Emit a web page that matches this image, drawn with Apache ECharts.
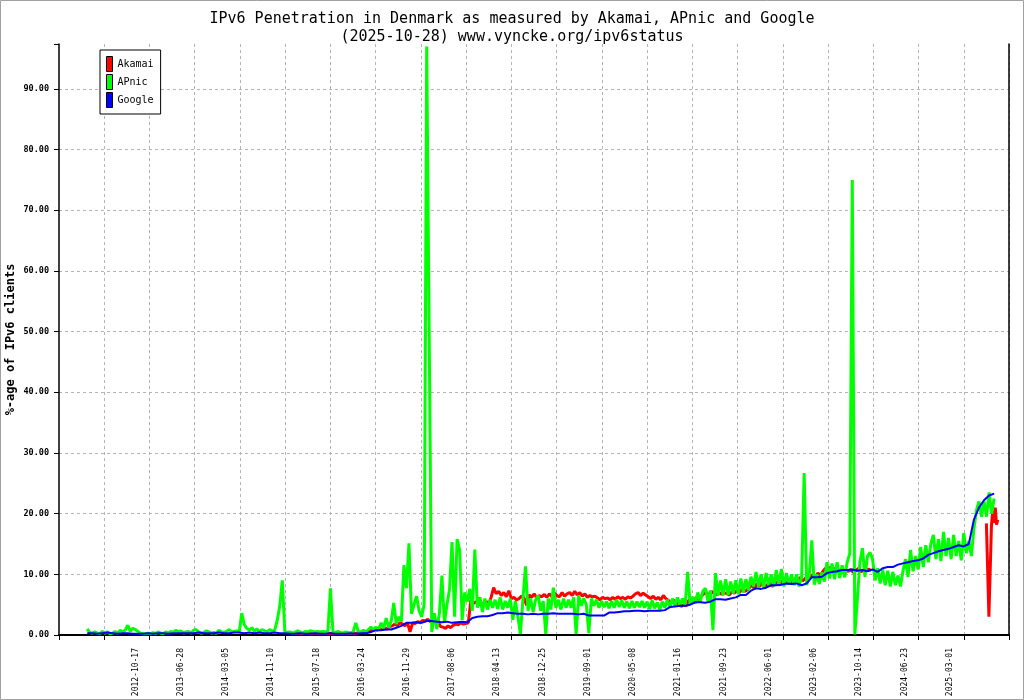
<!DOCTYPE html>
<html>
<head>
<meta charset="utf-8">
<title>IPv6 Denmark</title>
<script src="https://cdn.jsdelivr.net/npm/echarts@6.0.0/dist/echarts.min.js"></script>
<style>
  html, body { margin: 0; padding: 0; background: #fff; }
  #chart { width: 1024px; height: 700px; }
</style>
</head>
<body>
<div id="chart"></div>
<script>
// x ticks every 250 days, day 0 = 2012-02-10
var xTickLabels = ["2012-10-17", "2013-06-28", "2014-03-05", "2014-11-10", "2015-07-18",
  "2016-03-24", "2016-11-29", "2017-08-06", "2018-04-13", "2018-12-25", "2019-09-01",
  "2020-05-08", "2021-01-16", "2021-09-23", "2022-06-01", "2023-02-06", "2023-10-14",
  "2024-06-23", "2025-03-01"];

// APNIC, one value every 14 days
var apnicStart = "2011-11-08";
var apnicStep = 14;
var apnicValues = [
  1.0, 0.4, 0.3, 0.5, 0.3, 0.2, 0.6, 0.3, 0.5, 0.2,
  0.3, 0.6, 0.3, 0.8, 0.5, 0.8, 1.6, 0.6, 1.1, 0.9,
  0.6, 0.3, 0.2, 0.2, 0.3, 0.2, 0.4, 0.2, 0.5, 0.3,
  0.2, 0.5, 0.3, 0.6, 0.4, 0.8, 0.5, 0.7, 0.3, 0.5,
  0.6, 0.3, 0.8, 0.9, 0.5, 0.3, 0.4, 0.7, 0.5, 0.3,
  0.4, 0.3, 0.8, 0.5, 0.4, 0.6, 0.9, 0.5, 0.6, 0.7,
  0.5, 3.6, 1.7, 1.1, 0.8, 1.2, 0.6, 1.0, 0.5, 0.9,
  0.7, 0.5, 0.9, 0.6, 0.8, 2.4, 4.8, 9.0, 0.6, 0.4,
  0.5, 0.3, 0.4, 0.7, 0.5, 0.3, 0.6, 0.5, 0.7, 0.6,
  0.5, 0.6, 0.5, 0.6, 0.5, 0.6, 7.7, 0.5, 0.4, 0.6,
  0.4, 0.3, 0.5, 0.4, 0.3, 0.5, 2.0, 0.6, 0.4, 0.8,
  0.5, 0.9, 1.3, 0.9, 1.3, 0.8, 2.0, 1.1, 2.8, 1.2,
  2.3, 5.3, 1.8, 3.0, 2.2, 11.5, 7.7, 15.1, 3.5, 5.0,
  6.4, 4.0, 3.0, 5.0, 97.0, 49.0, 0.5, 3.6, 1.0, 3.5,
  9.8, 2.0, 5.0, 7.5, 15.3, 3.0, 15.8, 14.0, 2.5, 7.0,
  5.5, 7.6, 4.0, 14.1, 4.5, 6.2, 3.8, 6.0, 4.2, 5.8,
  4.5, 5.8, 4.3, 6.2, 4.2, 5.6, 4.5, 6.0, 2.5, 5.6,
  3.0, 0.2, 6.0, 11.3, 4.0, 6.0, 3.8, 5.8, 6.5, 4.0,
  5.6, 0.2, 6.0, 4.2, 7.8, 4.5, 5.8, 4.2, 6.0, 4.5,
  5.8, 4.5, 6.2, 0.2, 6.5, 4.8, 6.0, 5.0, 0.3, 6.0,
  4.8, 5.8, 4.5, 5.6, 4.6, 5.5, 4.4, 5.6, 4.5, 5.8,
  4.6, 5.7, 4.5, 5.5, 4.4, 5.6, 4.5, 5.5, 4.6, 5.6,
  4.5, 5.5, 4.3, 5.7, 4.4, 5.4, 4.2, 5.5, 4.5, 5.8,
  4.6, 6.0, 4.8, 6.2, 5.0, 6.0, 4.8, 10.4, 5.0, 6.3,
  5.2, 7.0, 5.5, 7.2, 7.7, 5.6, 7.3, 0.8, 10.2, 6.5,
  9.0, 6.5, 9.2, 6.6, 8.8, 6.8, 9.0, 6.7, 9.3, 7.0,
  9.2, 7.4, 9.6, 8.0, 10.4, 8.0, 10.0, 7.8, 10.2, 8.2,
  10.0, 8.0, 10.7, 8.2, 10.9, 8.0, 10.2, 8.3, 10.0, 8.2,
  10.0, 8.0, 9.6, 26.7, 8.2, 9.8, 15.6, 8.3, 10.0, 8.4,
  10.3, 8.8, 12.0, 9.3, 11.8, 9.2, 12.0, 9.4, 11.5, 9.5,
  12.0, 13.4, 75.0, 0.1, 5.8, 12.0, 14.3, 9.6, 13.0, 13.6,
  12.5, 9.0, 11.0, 8.5, 10.8, 8.2, 10.6, 8.0, 10.4, 8.2,
  9.8, 8.0, 10.5, 12.5, 9.6, 14.0, 10.5, 13.0, 10.8, 14.5,
  11.2, 14.8, 12.0, 15.0, 16.5, 12.5, 15.8, 12.2, 17.0, 13.0,
  16.0, 12.5, 16.5, 13.0, 15.5, 12.3, 16.8, 13.5, 15.5, 13.0,
  17.5, 20.5, 22.0, 19.5, 22.0, 19.5, 23.5, 20.0, 22.5
];

// Google, one value every 28 days
var googleStart = "2011-11-08";
var googleStep = 28;
var googleValues = [
  0.3, 0.3, 0.2, 0.3, 0.4, 0.3, 0.2, 0.3, 0.3, 0.2,
  0.2, 0.2, 0.3, 0.2, 0.3, 0.3, 0.2, 0.3, 0.3, 0.3,
  0.3, 0.3, 0.4, 0.3, 0.3, 0.3, 0.4, 0.3, 0.3, 0.4,
  0.4, 0.3, 0.4, 0.3, 0.4, 0.3, 0.3, 0.4, 0.3, 0.3,
  0.2, 0.2, 0.3, 0.2, 0.2, 0.3, 0.2, 0.2, 0.3, 0.2,
  0.2, 0.2, 0.3, 0.2, 0.3, 0.3, 0.5, 0.8, 0.8, 0.9,
  0.9, 1.2, 1.5, 2.0, 2.0, 2.1, 2.0, 2.3, 2.3, 2.2,
  2.1, 2.2, 2.0, 2.1, 2.2, 2.1, 2.8, 3.0, 3.1, 3.1,
  3.3, 3.6, 3.6, 3.7, 3.6, 3.5, 3.5, 3.4, 3.5, 3.4,
  3.5, 3.5, 3.6, 3.5, 3.5, 3.5, 3.5, 3.4, 3.5, 3.2,
  3.2, 3.2, 3.2, 3.7, 3.7, 3.8, 3.9, 3.9, 4.0, 4.0,
  3.9, 4.0, 4.0, 4.0, 4.1, 4.6, 4.7, 4.8, 4.8, 5.0,
  5.4, 5.4, 5.3, 5.5, 5.9, 5.9, 5.8, 6.0, 6.2, 6.6,
  6.6, 7.3, 7.7, 7.6, 7.8, 8.2, 8.2, 8.3, 8.5, 8.4,
  8.5, 8.2, 8.5, 9.5, 9.5, 9.6, 10.2, 10.4, 10.5, 10.7,
  10.7, 10.8, 10.6, 10.7, 10.5, 10.8, 10.4, 11.0, 11.2, 11.2,
  11.6, 11.8, 12.0, 12.2, 12.3, 12.6, 13.2, 13.5, 13.8, 14.0,
  14.2, 14.5, 14.8, 14.6, 15.0, 19.0, 21.0, 22.2, 23.0, 23.3
];

// Akamai, one value every 14 days, then a gap, then a short tail
var akamaiStart = "2014-12-08";
var akamaiStep = 14;
var akamaiValues = [
  0.2, 0.3, 0.2, 0.3, 0.2, 0.3, 0.4, 0.3, 0.2, 0.3,
  0.3, 0.2, 0.3, 0.2, 0.3, 0.2, 0.3, 0.2, 0.3, 0.2,
  0.2, 0.3, 0.2, 0.3, 0.3, 0.2, 0.3, 0.4, 0.5, 0.4,
  0.6, 0.7, 0.8, 0.9, 0.8, 1.0, 0.9, 1.1, 1.0, 1.4,
  1.5, 1.8, 1.6, 2.0, 1.8, 1.5, 2.0, 0.5, 2.0, 1.9,
  2.2, 2.0, 2.4, 2.3, 2.6, 2.2, 2.5, 2.3, 2.4, 1.4,
  1.3, 1.1, 1.5, 1.2, 1.6, 1.8, 1.7, 2.0, 1.8, 1.9,
  2.0, 5.8, 5.2, 5.5, 4.9, 5.3, 5.0, 5.6, 5.0, 6.2,
  7.8, 6.8, 7.2, 6.5, 7.0, 6.3, 7.3, 6.0, 6.2, 5.8,
  6.0, 6.4, 6.1, 4.9, 6.6, 6.2, 6.8, 6.1, 6.5, 6.3,
  6.7, 6.2, 6.8, 6.3, 6.9, 6.5, 6.3, 7.0, 6.4, 6.8,
  7.0, 6.5, 7.2, 6.6, 7.0, 6.4, 6.8, 6.2, 6.5, 6.3,
  6.4, 6.1, 5.8, 6.2, 6.0, 6.1, 5.8, 6.2, 5.9, 6.3,
  6.0, 6.2, 5.9, 6.3, 6.1, 6.4, 6.8, 7.0, 6.5, 6.9,
  6.6, 6.3, 6.0, 6.4, 5.9, 6.2, 5.8, 6.5, 6.0, 5.7,
  5.2, 5.8, 5.0, 5.5, 4.7, 5.0, 4.8, 5.7, 6.0, 5.6,
  6.2, 5.8, 6.4, 6.8, 7.0, 6.5, 7.2, 6.8, 6.6, 7.0,
  6.7, 7.0, 6.8, 6.6, 7.1, 6.9, 7.3, 7.0, 7.5, 7.2,
  7.4, 7.8, 8.2, 7.6, 8.5, 8.0, 8.7, 7.8, 8.3, 8.6,
  8.0, 8.4, 8.7, 8.2, 8.9, 9.3, 8.7, 9.1, 8.6, 9.3,
  9.0, 9.5, 8.9, 9.3, 9.8, 9.4, 10.0, 9.6, 10.2, 9.8,
  10.5, 11.0, 10.6, 11.2, 10.8, 11.0, 10.4, 10.8, 10.3, 10.7,
  10.5, 10.8, 10.3, 10.6, 11.0, 10.4, 10.7, 10.5, 10.9, 10.6
];
var akamaiTailStart = "2025-06-16";
var akamaiTailStep = 7;
var akamaiTailValues = [18.4, 10.8, 3.0, 3.0, 18.0, 20.5, 18.5, 21.0, 18.2, 19.0];

var DAY0 = Date.UTC(2012, 1, 10);
function dayOf(s) { return Math.round((Date.parse(s) - DAY0) / 86400000); }
function build(start, step, vals) {
  var d0 = dayOf(start);
  return vals.map(function (v, i) { return [d0 + i * step, v]; });
}

var apnicData = build(apnicStart, apnicStep, apnicValues);
var googleData = build(googleStart, googleStep, googleValues);
var akamaiData = build(akamaiStart, akamaiStep, akamaiValues);
akamaiData.push([akamaiData[akamaiData.length - 1][0] + akamaiStep, null]);
akamaiData = akamaiData.concat(build(akamaiTailStart, akamaiTailStep, akamaiTailValues));

var mono = "DejaVu Sans Mono";
var myChart = echarts.init(document.getElementById('chart'));

function lineSeries(name, color, width, data) {
  return {
    name: name,
    type: 'line',
    data: data,
    showSymbol: false,
    symbol: 'none',
    connectNulls: false,
    sampling: null,
    lineStyle: { color: color, width: width, join: 'bevel' },
    itemStyle: { color: color },
    emphasis: { disabled: true }
  };
}

var option = {
  animation: false,
  backgroundColor: '#fff',
  title: {
    text: 'IPv6 Penetration in Denmark as measured by Akamai, APnic and Google\n(2025-10-28) www.vyncke.org/ipv6status',
    left: 'center',
    top: 5,
    textStyle: { fontFamily: mono, fontSize: 15, fontWeight: 'normal', color: '#000', lineHeight: 18 }
  },
  legend: {
    orient: 'vertical',
    left: 100,
    top: 50,
    padding: [6, 7, 6, 6],
    itemWidth: 6,
    itemHeight: 15,
    itemGap: 2,
    backgroundColor: '#fff',
    borderColor: '#000',
    borderWidth: 1,
    borderRadius: 0,
    selectedMode: false,
    textStyle: { fontFamily: mono, fontSize: 10, color: '#000' },
    data: [
      { name: 'Akamai', icon: 'rect', itemStyle: { color: '#ff0000', borderColor: '#000', borderWidth: 1 } },
      { name: 'APnic', icon: 'rect', itemStyle: { color: '#00ff00', borderColor: '#000', borderWidth: 1 } },
      { name: 'Google', icon: 'rect', itemStyle: { color: '#0000ff', borderColor: '#000', borderWidth: 1 } }
    ]
  },
  grid: { left: 59, right: 15, top: 44, bottom: 65, outerBoundsMode: 'none' },
  xAxis: {
    type: 'value',
    min: -250,
    max: 5000,
    interval: 250,
    axisLine: { onZero: false, lineStyle: { color: '#000', width: 2 } },
    axisTick: { show: true, inside: false, length: 5, lineStyle: { color: '#000', width: 1 } },
    splitLine: { show: true, showMinLine: false, lineStyle: { color: '#b4b4b4', type: [3, 3], width: 1 } },
    axisLabel: {
      rotate: 90,
      margin: 13,
      verticalAlign: 'bottom',
      lineHeight: 28,
      fontFamily: mono,
      fontSize: 8,
      color: '#000',
      formatter: function (v) {
        var k = Math.round(v / 250);
        return (k >= 1 && k <= xTickLabels.length) ? xTickLabels[k - 1] : '';
      }
    }
  },
  yAxis: [{
    type: 'value',
    min: 0,
    max: 97.4,
    interval: 10,
    name: '%-age of IPv6 clients',
    nameLocation: 'middle',
    nameRotate: 90,
    nameGap: 42,
    nameMoveOverlap: false,
    nameTextStyle: { fontFamily: mono, fontSize: 12, fontWeight: 'bold', color: '#000' },
    axisLine: { show: true, onZero: false, lineStyle: { color: '#000', width: 1.5 } },
    axisTick: { show: true, length: 5, lineStyle: { color: '#000' } },
    splitLine: { show: true, showMinLine: false, showMaxLine: false, lineStyle: { color: '#b4b4b4', type: [3, 3], width: 1 } },
    axisLabel: {
      margin: 10,
      fontFamily: mono,
      fontSize: 8.5,
      fontWeight: 'bold',
      color: '#000',
      formatter: function (v) { return (Math.abs(v % 10) < 1e-9) ? v.toFixed(2) : ''; }
    }
  }, {
    type: 'value',
    position: 'right',
    min: 0,
    max: 97.4,
    axisLine: { show: true, onZero: false, lineStyle: { color: '#000', width: 1.5 } },
    axisTick: { show: false },
    axisLabel: { show: false },
    splitLine: { show: false }
  }],
  graphic: [{
    type: 'rect',
    silent: true,
    shape: { x: 0.5, y: 0.5, width: 1023, height: 699 },
    style: { fill: null, stroke: '#a0a0a0', lineWidth: 1 },
    z: 100
  }],
  series: [
    lineSeries('Akamai', '#ff0000', 3, akamaiData),
    lineSeries('APnic', '#00ff00', 3, apnicData),
    lineSeries('Google', '#0000ff', 2, googleData)
  ]
};

myChart.setOption(option);
window.addEventListener("resize", function () {
  myChart.resize();
});
</script>
</body>
</html>
